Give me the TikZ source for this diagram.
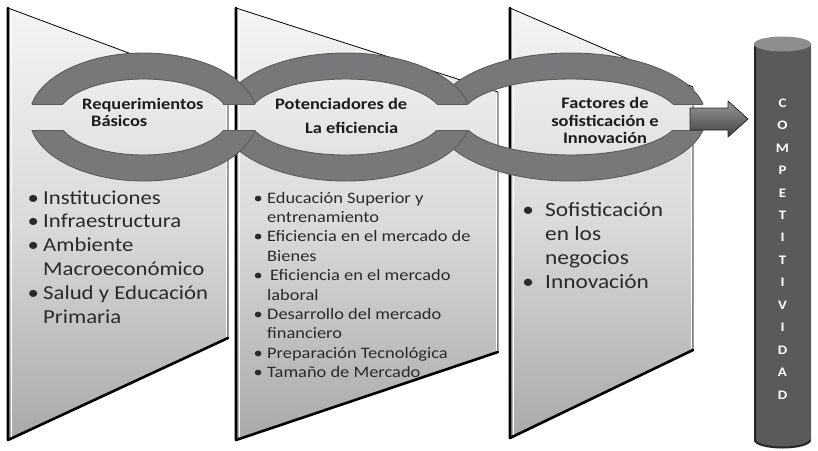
\documentclass[tikz,border=0pt]{standalone}
\usepackage{fontspec}
\setmainfont{Carlito}[FakeStretch=1.15]
\definecolor{pantop}{HTML}{F4F4F4}
\definecolor{panmid}{HTML}{DADADB}
\definecolor{panbot}{HTML}{A9A9AB}
\definecolor{ringgray}{HTML}{78787A}
\definecolor{ringedge}{HTML}{5B5B5D}
\definecolor{textgray}{HTML}{2A2A2A}
\definecolor{titlegray}{HTML}{1C1C1C}
\definecolor{cylbody}{HTML}{5A5A5A}
\definecolor{cyltop}{HTML}{8E8E8E}
\definecolor{arrtop}{HTML}{9A9A9A}
\definecolor{arrbot}{HTML}{404040}
\newcommand{\bitem}[2]{\par\noindent\llap{\makebox[#1][c]{•}}#2}
\newcommand{\chainring}[5]{%
  \begin{scope}
    \clip (0,0) rectangle (818,104) (0,130) rectangle (818,450);
    \filldraw[ringfill, even odd rule] (#1,117) ellipse [x radius=#2, y radius=64]
      (#1,117) ellipse [x radius=#3, y radius=38];
  \end{scope}
  \draw[ringcut] ({#1-#4},104) -- ({#1-#5},104);
  \draw[ringcut] ({#1+#4},104) -- ({#1+#5},104);
  \draw[ringcut] ({#1-#4},130) -- ({#1-#5},130);
  \draw[ringcut] ({#1+#4},130) -- ({#1+#5},130);
}
\newcommand{\panelshape}[6]{%
  \shade[panelfill] (#1,#2) -- (#3,#4) -- (#3,#5) -- (#1,#6) -- cycle;
  \draw[white, line width=0.8pt] ({#3-2},{#4+3}) -- ({#3-2},{#5-1});
  \draw[white, line width=0.8pt] ({#1+3},{#2+4}) -- ({#1+3},{#6-3});
  \draw[panelthin] (#1,#2) -- (#3,#4) -- (#3,#5);
  \draw[panelthick] (#1,#2) -- (#1,#6) -- (#3,#5);
}
\begin{document}
\begin{tikzpicture}[x=1pt,y=-1pt,
  panelfill/.style={top color=pantop, bottom color=panbot, middle color=panmid},
  panelthin/.style={draw=black, line width=0.8pt, line join=round},
  panelthick/.style={draw=black, line width=2.6pt, line join=round, line cap=round},
  ringfill/.style={fill=ringgray, draw=ringedge, line width=0.9pt},
  ringcut/.style={draw=ringedge, line width=0.9pt},
  bodytext/.style={inner sep=0pt, text=textgray, anchor=base west},
  titletext/.style={inner sep=0pt, text=titlegray, anchor=base west},
  cylletters/.style={inner sep=0pt, text=white, align=center, anchor=north,
    font=\bfseries\fontsize{13}{22.45}\selectfont},
  blockarrow/.style={top color=arrtop, bottom color=arrbot, draw=black!85, line width=0.8pt, line join=round}
]
\useasboundingbox (0,0) rectangle (818,450);
\fill[white] (0,0) rectangle (818,450);

% panels
\panelshape{8}{8}{228}{90}{338}{440}
\panelshape{236}{8}{498}{92}{352}{440}
\panelshape{510}{8}{693}{87}{350}{438}

% rings (interlocked chain)
\chainring{570.5}{135.3}{109}{132.5}{102.5}
\chainring{345.5}{125}{97.3}{122.5}{91.5}
\chainring{143.5}{114}{85.6}{111.5}{80.5}

% arrow to the cylinder
\shade[blockarrow] (690,108) -- (728,108) -- (728,101) -- (748,119) -- (728,137) -- (728,130) -- (690,130) -- cycle;

% cylinder
\fill[cylbody] (754,44) -- (754,440) arc[start angle=180, end angle=0, x radius=28.5, y radius=7.5] -- (811,44) -- cycle;
\draw[black!85, line width=2pt] (755,46) -- (755,440) arc[start angle=180, end angle=0, x radius=27.5, y radius=7.5];
\fill[cyltop] (782.5,44) ellipse [x radius=28.5, y radius=7.5];
\node[cylletters] (comp) at (782.5,98.5) {C\\O\\M\\P\\E\\T\\I\\T\\I\\V\\I\\D\\A\\D};

% ring titles
\node[titletext] (t1) at (82,109) {\parbox[t]{150pt}{\bfseries\fontsize{16}{17}\selectfont\raggedright Requerimientos\\\hspace*{9pt}Básicos}};
\node[titletext] (t2) at (275,109) {\parbox[t]{170pt}{\bfseries\fontsize{16}{24}\selectfont\raggedright Potenciadores de\\\hspace*{30pt}La eficiencia}};
\node[titletext, anchor=base] (t3) at (605,108.5) {\parbox[t]{160pt}{\bfseries\fontsize{16}{17.5}\selectfont\centering Factores de\\sofisticación e\\Innovación}};

% lists
\node[bodytext] (l1) at (43,204) {\parbox[t]{200pt}{\fontsize{19.8}{23.8}\selectfont\raggedright
\bitem{20pt}{Instituciones}
\bitem{20pt}{Infraestructura}
\bitem{20pt}{Ambiente\\Macroeconómico}
\bitem{20pt}{Salud y Educación\\Primaria}}};
\node[bodytext] (l2) at (267,203) {\parbox[t]{240pt}{\fontsize{16}{19.4}\selectfont\raggedright
\bitem{18pt}{Educación Superior y\\entrenamiento}
\bitem{18pt}{Eficiencia en el mercado de\\Bienes}
\bitem{18pt}{\hspace*{3pt}Eficiencia en el mercado\\laboral}
\bitem{18pt}{Desarrollo del mercado\\financiero}
\bitem{18pt}{Preparación Tecnológica}
\bitem{18pt}{Tamaño de Mercado}}};
\node[bodytext] (l3) at (545,216) {\parbox[t]{150pt}{\fontsize{20.3}{24}\selectfont\raggedright
\bitem{34pt}{Sofisticación\\en los\\negocios}
\bitem{34pt}{Innovación}}};
\end{tikzpicture}
\end{document}
